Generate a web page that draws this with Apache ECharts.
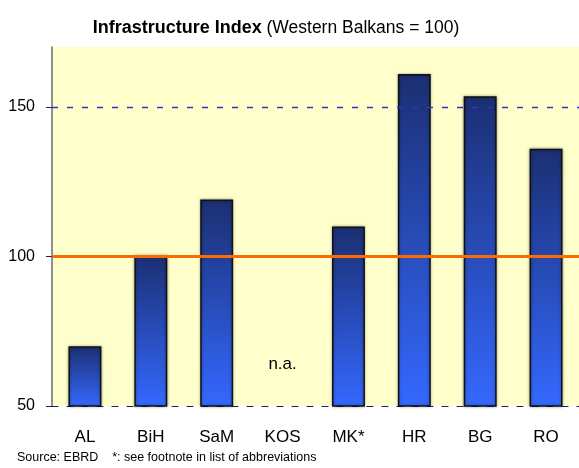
<!DOCTYPE html>
<html>
<head>
<meta charset="utf-8">
<script src="https://cdn.jsdelivr.net/npm/echarts@6/dist/echarts.min.js"></script>
<style>
  html, body { margin: 0; padding: 0; background: #fff; }
  #main { width: 579px; height: 468px; }
</style>
</head>
<body>
<div id="main"></div>
<script>
// 数据
var categories = ['AL', 'BiH', 'SaM', 'KOS', 'MK*', 'HR', 'BG', 'RO'];
var indexValues = [70, 100.5, 119, null, 110, 161, 153.5, 136];
var yTicks = [50, 100, 150];
var baseLine = 100;   // Western Balkans = 100
var naLabel = { cat: 'KOS', y: 64, text: 'n.a.' };

var myChart = echarts.init(document.getElementById('main'));

var option = {
    animation: false,
    backgroundColor: '#ffffff',
    textStyle: { fontFamily: 'Liberation Sans, Arial, sans-serif' },
    title: {
        text: '{b|Infrastructure Index} {n|(Western Balkans = 100)}',
        left: 271,
        textAlign: 'center',
        top: 14,
        textStyle: {
            fontSize: 17,
            fontWeight: 'normal',
            rich: {
                b: { fontSize: 18, fontWeight: 'bold', color: '#000' },
                n: { fontSize: 17.5, fontWeight: 'normal', color: '#000' }
            }
        }
    },
    grid: {
        left: 52,
        top: 47,
        width: 541,
        bottom: 62,
        show: true,
        backgroundColor: '#ffffcc',
        borderWidth: 0
    },
    xAxis: {
        type: 'category',
        data: categories,
        axisLine: {
            show: true,
            lineStyle: { color: '#1a1a80', width: 1.2, type: [6, 9] }
        },
        axisTick: { show: false },
        axisLabel: { fontSize: 17, color: '#000', margin: 23 }
    },
    yAxis: {
        type: 'value',
        min: 50,
        max: 170,
        interval: 50,
        axisLine: { show: true, lineStyle: { color: '#6b6b6b', width: 1.5 } },
        axisTick: { show: true, length: 6, customValues: yTicks, lineStyle: { color: '#1f1f60' } },
        axisLabel: { fontSize: 16, color: '#000', margin: 17, customValues: yTicks },
        splitLine: { show: false }
    },
    series: [{
        type: 'bar',
        data: indexValues,
        barWidth: '50%',
        itemStyle: {
            color: new echarts.graphic.LinearGradient(0, 0, 0, 1, [
                { offset: 0, color: '#1b2f72' },
                { offset: 1, color: '#3468ff' }
            ]),
            borderColor: '#111',
            borderWidth: 1.5,
            shadowColor: 'rgba(0,0,0,0.35)',
            shadowBlur: 3
        },
        markLine: {
            silent: true,
            symbol: 'none',
            label: { show: false },
            data: [
                { yAxis: 150, lineStyle: { color: '#3333cc', width: 1.3, type: [6, 9] } },
                { yAxis: baseLine, lineStyle: { color: '#ff6a00', width: 3, type: 'solid' } }
            ]
        },
        markPoint: {
            silent: true,
            symbol: 'circle',
            symbolSize: 1,
            itemStyle: { color: 'rgba(0,0,0,0)' },
            data: [{
                coord: [naLabel.cat, naLabel.y],
                label: { show: true, position: 'inside', formatter: naLabel.text, fontSize: 17, color: '#000' }
            }]
        },
        z: 3
    }],
    graphic: [{
        type: 'text',
        left: 17,
        top: 451,
        style: {
            text: 'Source: EBRD    *: see footnote in list of abbreviations',
            fontSize: 12.5,
            fill: '#000',
            fontFamily: 'Liberation Sans, Arial, sans-serif'
        }
    }]
};

myChart.setOption(option);
</script>
</body>
</html>
